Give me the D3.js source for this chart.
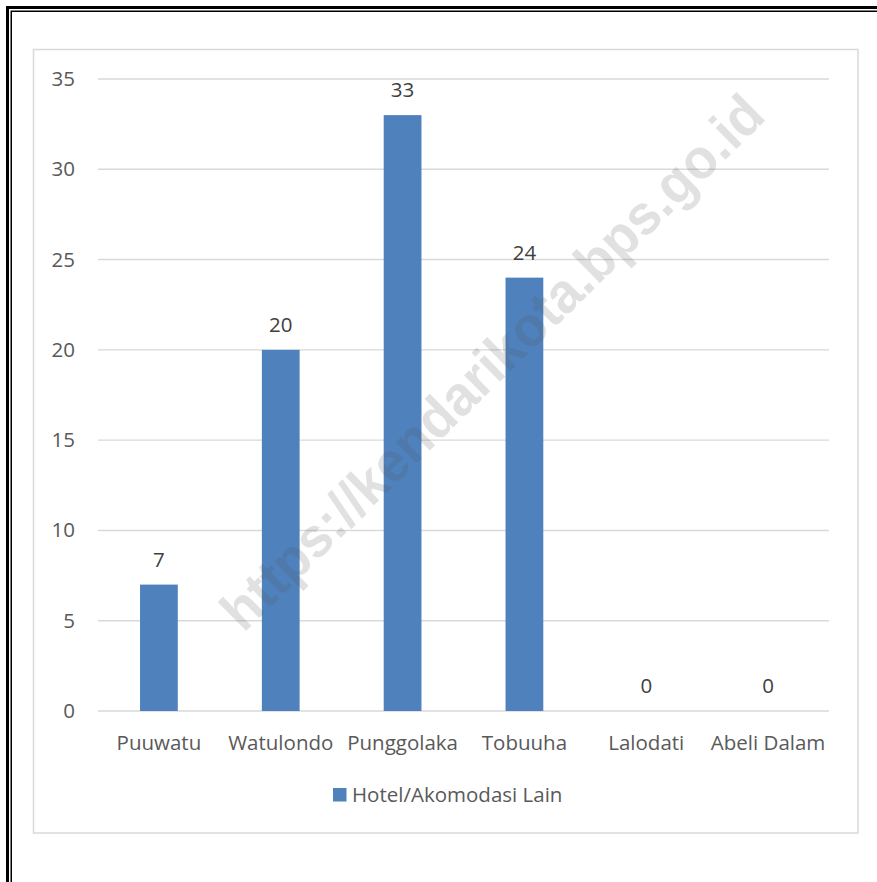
<!DOCTYPE html>
<html>
<head>
<meta charset="utf-8">
<script src="https://cdn.jsdelivr.net/npm/d3@7"></script>
<style>
  html, body { margin: 0; padding: 0; background: #fff; }
  svg { display: block; }
</style>
</head>
<body>
<script>
const categories = ["Puuwatu", "Watulondo", "Punggolaka", "Tobuuha", "Lalodati", "Abeli Dalam"];
const values = [7, 20, 33, 24, 0, 0];
const yTicks = [0, 5, 10, 15, 20, 25, 30, 35];
const seriesName = "Hotel/Akomodasi Lain";
const watermark = "https://kendarikota.bps.go.id";

const W = 877, H = 882;
const FONT = "'Open Sans', 'Noto Sans', sans-serif";
const FS = 20.5;
const svg = d3.select("body").append("svg").attr("width", W).attr("height", H);

// page frame (thick-thin double border)
svg.append("path").attr("d", "M7.5,882V7.5H877").attr("fill", "none").attr("stroke", "#000").attr("stroke-width", 3);
svg.append("path").attr("d", "M11.25,882V11.25H877").attr("fill", "none").attr("stroke", "#000").attr("stroke-width", 1.5);

// chart area border
svg.append("rect").attr("x", 33.5).attr("y", 49.5).attr("width", 824.5).attr("height", 783.5)
  .attr("fill", "#fff").attr("stroke", "#d9d9d9").attr("stroke-width", 1.5);

const x = d3.scaleBand().domain(categories).range([98, 829]).paddingInner(0.69).paddingOuter(0.345);
const y = d3.scaleLinear().domain([0, 35]).range([711, 79]);

// gridlines
svg.append("g").selectAll("line").data(yTicks).join("line")
  .attr("x1", 98).attr("x2", 829)
  .attr("y1", d => y(d)).attr("y2", d => y(d))
  .attr("stroke", "#d9d9d9").attr("stroke-width", 1.4);

// y axis labels
const yAxis = d3.axisLeft(y).tickValues(yTicks).tickSize(0).tickPadding(0);
const ya = svg.append("g").attr("transform", "translate(75,0)").call(yAxis);
ya.select(".domain").remove();
ya.selectAll("text").attr("font-family", FONT).attr("font-size", FS).attr("fill", "#595959");

// x axis labels
const xAxis = d3.axisBottom(x).tickSize(0).tickPadding(0);
const xa = svg.append("g").attr("transform", "translate(0,735.5)").call(xAxis);
xa.select(".domain").remove();
xa.selectAll("text").attr("font-family", FONT).attr("font-size", FS).attr("fill", "#595959");

// bars
svg.append("g").selectAll("rect").data(values).join("rect")
  .attr("x", (d, i) => x(categories[i]))
  .attr("width", x.bandwidth())
  .attr("y", d => y(d))
  .attr("height", d => y(0) - y(d))
  .attr("fill", "#4f81bd");

// data labels
svg.append("g").selectAll("text").data(values).join("text")
  .attr("x", (d, i) => x(categories[i]) + x.bandwidth() / 2)
  .attr("y", d => y(d) - 18)
  .attr("text-anchor", "middle")
  .attr("font-family", FONT).attr("font-size", FS).attr("fill", "#404040")
  .text(d => d);

// legend
const lg = svg.append("g");
lg.append("rect").attr("x", 333).attr("y", 788).attr("width", 13.5).attr("height", 13.5).attr("fill", "#4f81bd");
lg.append("text").attr("x", 352).attr("y", 802).attr("font-family", FONT).attr("font-size", FS)
  .attr("fill", "#595959").text(seriesName);

// watermark
svg.append("text")
  .attr("transform", "translate(492,362) rotate(-44.5)")
  .attr("text-anchor", "middle").attr("dominant-baseline", "central")
  .attr("font-family", "'Liberation Sans', Arial, sans-serif").attr("font-weight", "bold")
  .attr("font-size", 56)
  .attr("textLength", 735).attr("lengthAdjust", "spacingAndGlyphs")
  .attr("fill", "rgba(90,90,90,0.18)")
  .text(watermark);
</script>
</body>
</html>
